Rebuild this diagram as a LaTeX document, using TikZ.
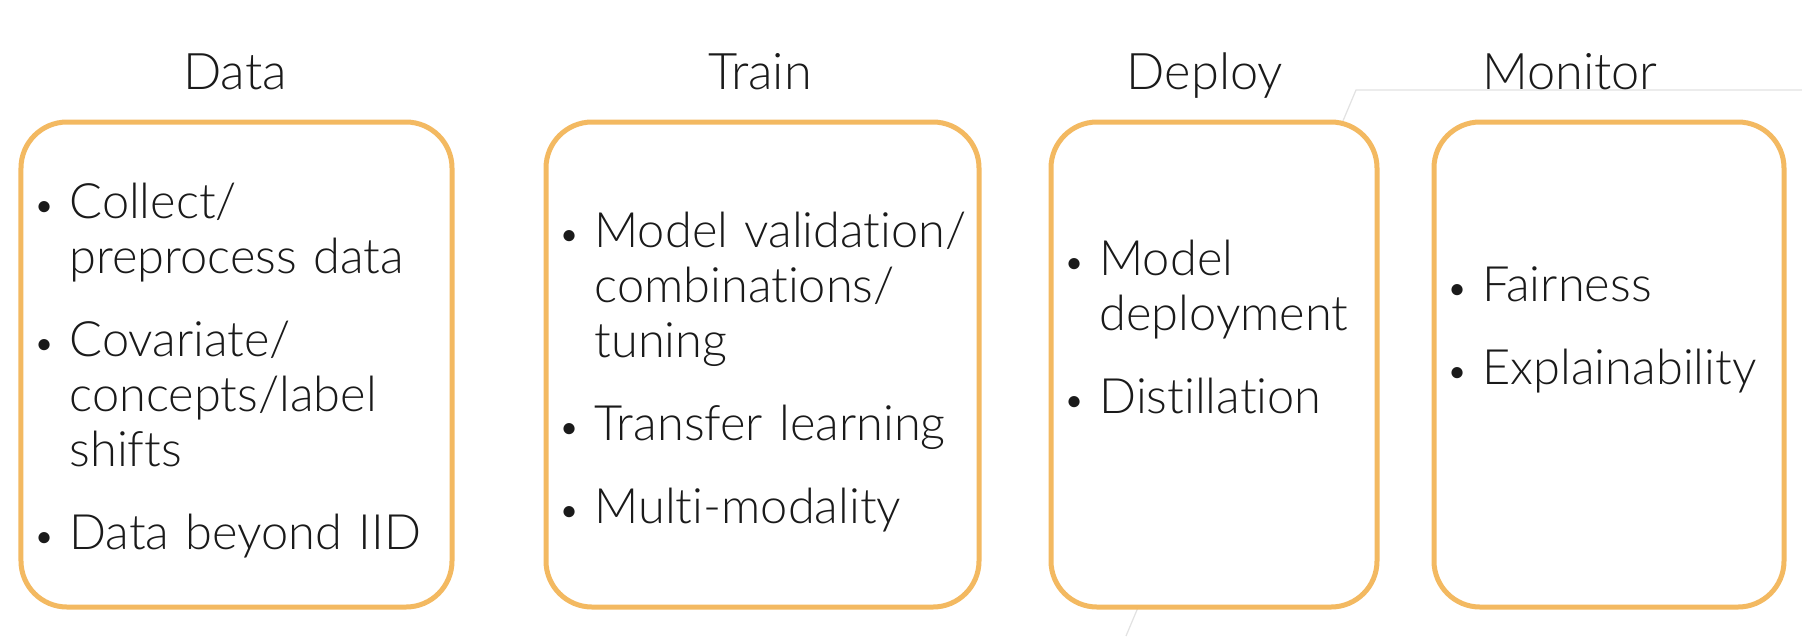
\documentclass[tikz,border=0pt]{standalone}
\usepackage{fontspec}
\usepackage{graphicx}
\setmainfont{Lato Light}[Ligatures={NoCommon,NoRare,NoContextual}]
\usetikzlibrary{positioning}
\definecolor{boxline}{HTML}{F3B961}
\definecolor{stray}{HTML}{E2E2E2}
\definecolor{ink}{HTML}{1A1A1A}
\hyphenpenalty=10000
\newcommand{\stageitem}[1]{\noindent\hangindent=12.4pt\hangafter=1\makebox[12.4pt][l]{\hspace{-2pt}\scalebox{0.78}{\textbullet}}#1\par}
\tikzset{
  stage/.style={draw=boxline, fill=white, line width=2pt, rounded corners=18.4pt,
    minimum height=194pt, inner sep=0pt},
  title/.style={text=ink, font=\fontsize{20.2}{24}\selectfont, anchor=base, inner sep=0pt},
  list/.style={text=ink, font=\fontsize{19.5}{22}\selectfont,
    align=left, anchor=base west, inner sep=0pt, text width=200pt},
  guide/.style={draw=stray, line width=0.5pt},
}
\begin{document}
\begin{tikzpicture}[x=0.4pt,y=-0.4pt]
  \useasboundingbox (0,0) rectangle (1802,636);
  % faint guide lines behind the boxes
  \coordinate (g1) at (1802,90);
  \coordinate (g2) at (1356,90);
  \coordinate (g3) at (1126,636);
  \draw[guide] (g1) -- (g2) -- (g3);
  % stage boxes
  \node[stage, minimum width=172.4pt] (dataBox) at (236.5,364.5) {};
  \node[stage, minimum width=173.2pt] (trainBox) at (762.5,364.5) {};
  \node[stage, minimum width=130.4pt] (deployBox) at (1214,364.5) {};
  \node[stage, minimum width=140pt] (monitorBox) at (1609,364.5) {};
  % headings
  \node[title] (dataTitle) at (235,89) {Data};
  \node[title] (trainTitle) at (760,89) {Train};
  \node[title] (deployTitle) at (1205,89) {Deploy};
  \node[title] (monitorTitle) at (1570,89) {Monitor};
  % bullet lists
  \node[list] (dataList) at (38,218) {%
    \stageitem{Collect/\newline preprocess data}\vspace{11.2pt}%
    \stageitem{Covariate/\newline concepts/label\newline shifts}\vspace{11.2pt}%
    \stageitem{Data beyond IID}};
  \node[list] (trainList) at (563,247) {%
    \stageitem{Model validation/\newline combinations/\newline tuning}\vspace{11.2pt}%
    \stageitem{Transfer learning}\vspace{11.2pt}%
    \stageitem{Multi-modality}};
  \node[list] (deployList) at (1068,275) {%
    \stageitem{Model\newline deployment}\vspace{11.2pt}%
    \stageitem{Distillation}};
  \node[list] (monitorList) at (1451,301) {%
    \stageitem{Fairness}\vspace{11.2pt}%
    \stageitem{Explainability}};
\end{tikzpicture}
\end{document}
